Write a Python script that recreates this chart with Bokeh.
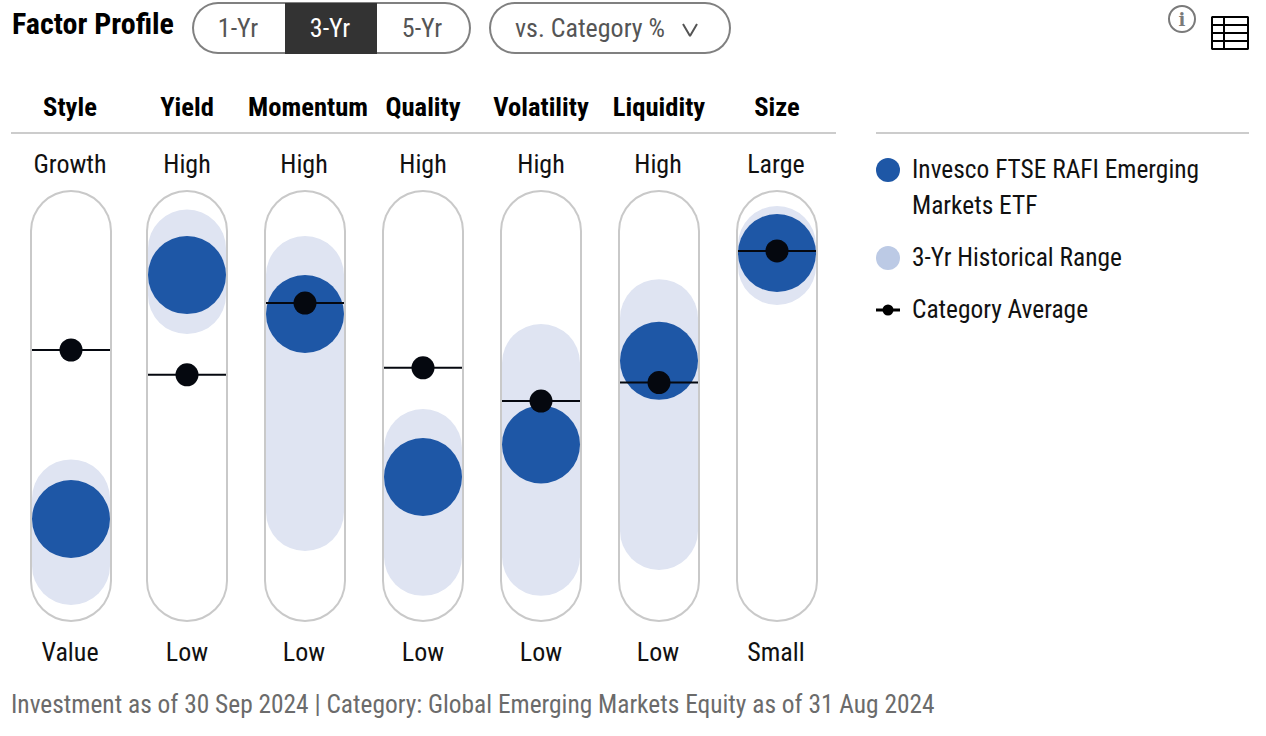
from bokeh.embed import file_html
from bokeh.resources import INLINE
from bokeh.plotting import figure
from bokeh.models import Range1d, ColumnDataSource
from bokeh.core.properties import value

# ---- data ----
factors = ["Style", "Yield", "Momentum", "Quality", "Volatility", "Liquidity", "Size"]
top_labels = ["Growth", "High", "High", "High", "High", "High", "Large"]
bottom_labels = ["Value", "Low", "Low", "Low", "Low", "Low", "Small"]
investment = [17.7, 87.4, 76.3, 29.7, 39.0, 62.9, 93.7]
range_low = [4.3, 81.7, 19.7, 6.9, 6.9, 14.3, 90.0]
range_high = [23.6, 95.0, 87.4, 38.0, 62.3, 75.1, 96.0]
category_avg = [66.0, 58.9, 79.4, 60.9, 51.4, 56.7, 94.3]
legend_labels = ["Invesco FTSE RAFI Emerging", "Markets ETF", "3-Yr Historical Range", "Category Average"]
periods = ["1-Yr", "3-Yr", "5-Yr"]
footer = "Investment as of 30 Sep 2024 | Category: Global Emerging Markets Equity as of 31 Aug 2024"

# ---- layout (pixel geometry of the page) ----
W, H = 1260, 730
SHIFT = 0.5
col_x = [71, 187, 305, 423, 541, 659, 777]
header_dx = [-1, 0, 3, 0, 0, 0, 0]
label_dx = [-1, 0, -1, 0, 0, -1, -1]
BLUE, LIGHT, LEG_LIGHT, GRID, INK = "#1e57a6", "#dfe4f2", "#bccae5", "#cccccc", "#111111"
DOT = "#05080f"
FONT = "'Roboto Condensed', 'Liberation Sans Narrow', 'Arial Narrow', Roboto"
Y0, Y100 = 581, 231   # page y of value 0 and 100

p = figure(width=W, height=H, output_backend="svg", toolbar_location=None,
           x_range=Range1d(SHIFT, W + SHIFT), y_range=Range1d(H + SHIFT, SHIFT), min_border=0,
           outline_line_color=None)
p.axis.visible = False
p.grid.visible = False
p.background_fill_color = "#ffffff"
p.border_fill_color = "#ffffff"

# value axis mapped on the page so 0 and 100 sit at the track's end positions
per_px = 100 / (Y0 - Y100)
p.extra_y_ranges = {"val": Range1d((Y0 - H - SHIFT) * per_px, (Y0 - SHIFT) * per_px)}


def txt(x, y, s, size, color=INK, align="center", bold=False, font=FONT, baseline="middle"):
    p.text([x], [y], text=[s], text_font=value(font), text_font_size=f"{size}px",
           text_color=color, text_align=align, text_baseline=baseline,
           text_font_style="bold" if bold else "normal")


src = ColumnDataSource(dict(x=col_x, inv=investment, lo=range_low, hi=range_high, avg=category_avg,
                            x0=[x - 39 for x in col_x], x1=[x + 39 for x in col_x],
                            zero=[0] * 7, hundred=[100] * 7))

# tracks
p.segment("x", "zero", "x", "hundred", source=src, y_range_name="val", line_width=82,
          line_color="#c9c9c9", line_cap="round")
p.segment("x", "zero", "x", "hundred", source=src, y_range_name="val", line_width=78,
          line_color="#ffffff", line_cap="round")
# history range
p.segment("x", "lo", "x", "hi", source=src, y_range_name="val", line_width=78,
          line_color=LIGHT, line_cap="round")
# investment
p.scatter("x", "inv", source=src, y_range_name="val", size=78, marker="circle",
          fill_color=BLUE, line_color=None)
# category
p.segment("x0", "avg", "x1", "avg", source=src, y_range_name="val", line_width=2, line_color=DOT)
p.scatter("x", "avg", source=src, y_range_name="val", size=23, marker="circle",
          fill_color=DOT, line_color=None)

# column labels
for x, f, t, b, hdx, ldx in zip(col_x, factors, top_labels, bottom_labels, header_dx, label_dx):
    txt(x + hdx, 106, f, 26.6, color="#000000", bold=True)
    txt(x + ldx, 164, t, 26)
    txt(x + ldx, 652, b, 26)

# rules
p.segment([11, 876], [133, 133], [836, 1249], [133, 133], line_width=2, line_color=GRID)

# title and controls
txt(12, 23, "Factor Profile", 30, color="#000000", align="left", bold=True)
for x0, x1 in ((218, 445), (515, 705)):
    p.segment([x0], [28], [x1], [28], line_width=52, line_color="#808080", line_cap="round")
    p.segment([x0], [28], [x1], [28], line_width=48, line_color="#ffffff", line_cap="round")
p.quad(left=[285], right=[377], top=[3], bottom=[54], fill_color="#333333", line_color=None)
for x, s, c in zip((238, 330, 422), periods, ("#555555", "#ffffff", "#555555")):
    txt(x, 28, s, 26, color=c)
txt(590, 28, "vs. Category %", 26, color="#555555")
p.line([683, 690, 697], [24, 36, 24], line_width=2, line_color="#555555")

# icons
p.scatter([1182], [19], size=26, marker="circle", fill_color="#ffffff", line_color="#7a7a7a", line_width=2)
txt(1182, 19, "i", 18, color="#7a7a7a", bold=True, font="DejaVu Serif")
p.quad(left=[1212], right=[1248], top=[17], bottom=[49], fill_color="#ffffff",
       line_color="#000000", line_width=2)
for y in (25, 33, 41):
    p.line([1212, 1248], [y, y], line_width=2, line_color="#000000")
p.line([1224, 1224], [17, 49], line_width=2, line_color="#000000")

# legend
p.scatter([888], [170], size=24, marker="circle", fill_color=BLUE, line_color=None)
p.scatter([888], [258], size=24, marker="circle", fill_color=LEG_LIGHT, line_color=None)
p.line([876, 900], [310, 310], line_width=3, line_color="#000000")
p.scatter([888], [310], size=11, marker="circle", fill_color="#000000", line_color=None)
for y, s in zip((169, 205, 257, 309), legend_labels):
    txt(912, y, s, 25.4, align="left")

# footer
txt(11, 703.5, footer, 25.4, color="#6b6b6b", align="left")

open("out.html", "w").write(file_html(p, INLINE))
